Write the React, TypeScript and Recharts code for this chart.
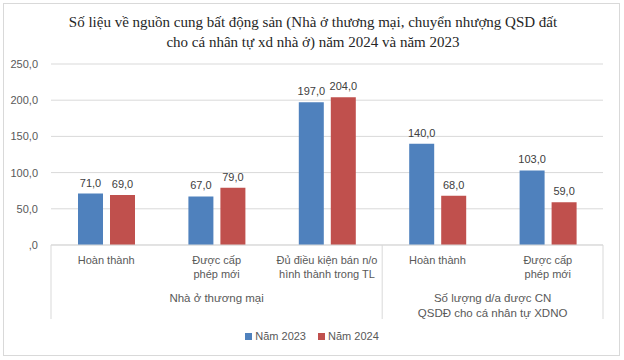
import { Bar, BarChart, CartesianGrid, LabelList, Legend, XAxis, YAxis } from "recharts";

const categoryKeys = ["c1", "c2", "c3", "c4", "c5"];
const categoryLines = [
  ["Hoàn thành"],
  ["Được cấp", "phép mới"],
  ["Đủ điều kiện bán n/o", "hình thành trong TL"],
  ["Hoàn thành"],
  ["Được cấp", "phép mới"],
];
const groupLabels = [
  { start: 0, size: 3, lines: ["Nhà ở thương mại"] },
  { start: 3, size: 2, lines: ["Số lượng d/a được CN", "QSDĐ cho cá nhân tự XDNO"] },
];
const values2023 = [71, 67, 197, 140, 103];
const values2024 = [69, 79, 204, 68, 59];
const yTicks = [0, 50, 100, 150, 200, 250];
const seriesNames = ["Năm 2023", "Năm 2024"];

const data = categoryKeys.map((key, i) => ({
  key,
  y2023: values2023[i],
  y2024: values2024[i],
}));

const BLUE = "#4F81BD";
const RED = "#C0504D";
const TEXT = "#595959";
const GRID = "#D9D9D9";
const FONT = "'Liberation Sans', Arial, sans-serif";

const PLOT_WIDTH = 552;
const BAND = PLOT_WIDTH / categoryKeys.length;
const AXIS_HEIGHT = 74;

const fmt = (v: number) => (v === 0 ? ",0" : v.toFixed(1).replace(".", ","));

function CategoryTick(props: any) {
  const { x, y, payload } = props;
  const i = categoryKeys.indexOf(payload.value);
  const lines = categoryLines[i] || [];
  const group = groupLabels.find((g) => g.start === i);
  const isLast = i === categoryKeys.length - 1;
  return (
    <g>
      <text x={x} y={y} textAnchor="middle" fill={TEXT} fontSize={11} fontFamily={FONT}>
        {lines.map((l, k) => (
          <tspan key={k} x={x} dy={k === 0 ? 19 : 14}>
            {l}
          </tspan>
        ))}
      </text>
      {group ? (
        <>
          <line x1={x - BAND / 2} x2={x - BAND / 2} y1={y} y2={y + AXIS_HEIGHT} stroke={GRID} />
          <text
            x={x - BAND / 2 + (group.size * BAND) / 2}
            y={y}
            textAnchor="middle"
            fill={TEXT}
            fontSize={11.5}
            fontFamily={FONT}
          >
            {group.lines.map((l, k) => (
              <tspan key={k} x={x - BAND / 2 + (group.size * BAND) / 2} dy={k === 0 ? 57 : 15}>
                {l}
              </tspan>
            ))}
          </text>
        </>
      ) : null}
      {isLast ? <line x1={x + BAND / 2} x2={x + BAND / 2} y1={y} y2={y + AXIS_HEIGHT} stroke={GRID} /> : null}
    </g>
  );
}

function LegendContent() {
  const colors = [BLUE, RED];
  return (
    <div
      style={{
        height: 16,
        display: "flex",
        justifyContent: "center",
        alignItems: "center",
        gap: 12,
        fontFamily: FONT,
        fontSize: 11,
        color: TEXT,
      }}
    >
      {seriesNames.map((name, i) => (
        <div key={name} style={{ display: "flex", alignItems: "center", gap: 3 }}>
          <span style={{ width: 7, height: 7, background: colors[i], display: "inline-block" }} />
          <span>{name}</span>
        </div>
      ))}
    </div>
  );
}

export default function App() {
  return (
    <div style={{ position: "absolute", left: 0, top: 0, width: 624, height: 360, background: "#fff" }}>
      <div
        style={{
          position: "absolute",
          left: 3,
          top: 3,
          width: 615,
          height: 351,
          border: `1px solid ${GRID}`,
        }}
      />
      <div
        style={{
          position: "absolute",
          left: 0,
          top: 12,
          width: 626,
          textAlign: "center",
          fontFamily: "'Liberation Serif', 'Times New Roman', serif",
          fontSize: 15,
          lineHeight: "20px",
          color: "#262626",
        }}
      >
        Số liệu về nguồn cung bất động sản (Nhà ở thương mại, chuyển nhượng QSD đất
        <br />
        cho cá nhân tự xd nhà ở) năm 2024 và năm 2023
      </div>
      <div style={{ position: "absolute", left: 0, top: 0 }}>
        <BarChart
          width={624}
          height={360}
          data={data}
          margin={{ top: 64, right: 21, bottom: 25, left: 0 }}
          barSize={25}
          barGap={7}
        >
          <CartesianGrid vertical={false} stroke={GRID} />
          <XAxis
            dataKey="key"
            height={AXIS_HEIGHT}
            axisLine={{ stroke: GRID }}
            tickLine={false}
            tickSize={0}
            tickMargin={0}
            interval={0}
            tick={<CategoryTick />}
          />
          <YAxis
            width={51}
            domain={[0, 250]}
            ticks={yTicks}
            axisLine={false}
            tickLine={false}
            tickMargin={7}
            tickFormatter={fmt}
            tick={{ fill: TEXT, fontSize: 11, fontFamily: FONT }}
          />
          <Legend
            verticalAlign="bottom"
            height={16}
            content={<LegendContent />}
            wrapperStyle={{ top: 328, left: 0, width: 624, bottom: "auto" }}
          />
          <Bar dataKey="y2023" name={seriesNames[0]} fill={BLUE} isAnimationActive={false}>
            <LabelList
              dataKey="y2023"
              position="top"
              offset={7}
              formatter={(v: any) => fmt(Number(v))}
              fill="#404040"
              fontSize={11}
              fontFamily={FONT}
            />
          </Bar>
          <Bar dataKey="y2024" name={seriesNames[1]} fill={RED} isAnimationActive={false}>
            <LabelList
              dataKey="y2024"
              position="top"
              offset={7}
              formatter={(v: any) => fmt(Number(v))}
              fill="#404040"
              fontSize={11}
              fontFamily={FONT}
            />
          </Bar>
        </BarChart>
      </div>
    </div>
  );
}
